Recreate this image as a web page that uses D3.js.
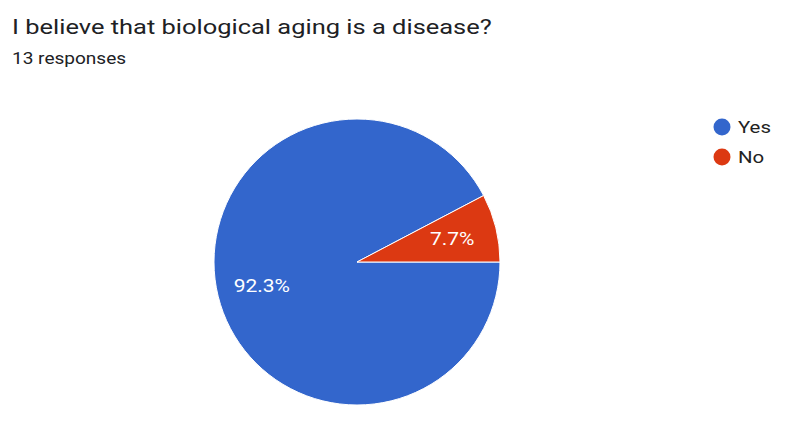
<!DOCTYPE html>
<html><head><meta charset="utf-8">
<script src="https://cdn.jsdelivr.net/npm/d3@7"></script>
<style>body{margin:0;background:#fff;}svg{display:block;font-family:Roboto,Arial,sans-serif;}</style>
</head><body>
<svg id="c" width="800" height="437"></svg>
<script>
const categories = ["Yes", "No"];
const values = [12, 1];
const colors = ["#3366cc", "#dc3912"];
const title = "I believe that biological aging is a disease?";
const subtitle = "13 responses";

const svg = d3.select("#c");
svg.append("rect").attr("width",800).attr("height",437).attr("fill","#fff");
const sx = 1.2;
svg.append("text").attr("transform","translate(12,34) scale(1.212,1)").attr("font-size",21).attr("fill","#202124").text(title);
svg.append("text").attr("transform","translate(12,64) scale(1.19,1)").attr("font-size",16).attr("fill","#202124").text(subtitle);

const cx = 357, cy = 262, R = 143;
const total = d3.sum(values);
const pie = d3.pie().sort(null).startAngle(Math.PI/2).endAngle(Math.PI/2 + 2*Math.PI);
const arcs = pie(values);
const arc = d3.arc().innerRadius(0).outerRadius(R);
const labelArc = d3.arc().innerRadius(98).outerRadius(98);
const g = svg.append("g").attr("transform",`translate(${cx},${cy})`);
g.selectAll("path").data(arcs).join("path")
  .attr("d",arc).attr("fill",(d,i)=>colors[i]).attr("stroke","#fff").attr("stroke-width",1);
g.selectAll("text").data(arcs).join("text")
  .attr("transform",d=>`translate(${labelArc.centroid(d)}) scale(${sx},1)`)
  .attr("text-anchor","middle").attr("dy","0.35em")
  .attr("font-size",17.5).attr("fill","#fff")
  .text(d=>(d.data/total*100).toFixed(1)+"%");

const leg = svg.append("g");
categories.forEach((c,i)=>{
  const y = 127 + i*30;
  leg.append("circle").attr("cx",722).attr("cy",y).attr("r",8.5).attr("fill",colors[i]);
  leg.append("text").attr("transform",`translate(738,${y}) scale(${sx},1)`).attr("dy","0.35em").attr("font-size",17).attr("fill","#222").text(c);
});
</script>
</body></html>
